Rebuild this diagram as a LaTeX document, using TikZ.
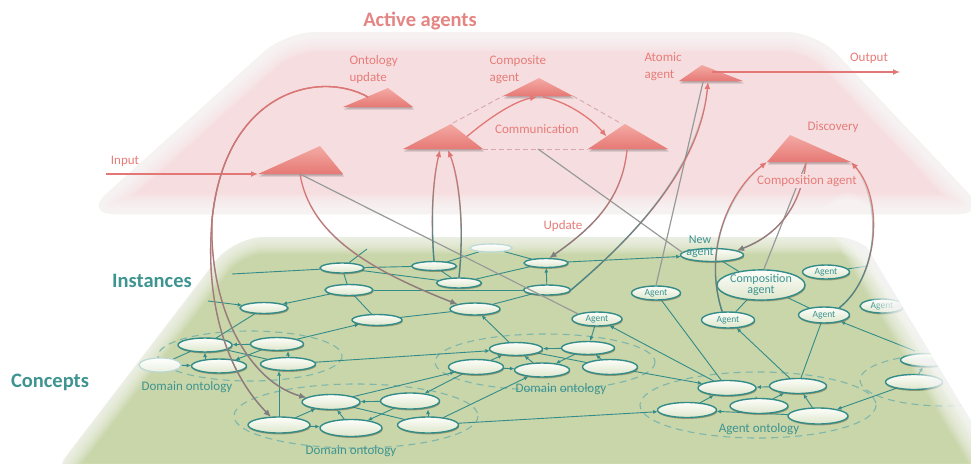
\documentclass[tikz,border=0pt]{standalone}
\usepackage{fontspec}
\setmainfont{Carlito}
\usetikzlibrary{arrows.meta,shapes.geometric,shadows,fadings,calc}

\definecolor{pinkplane}{RGB}{246,222,224}
\definecolor{greenplane}{RGB}{201,214,170}
\definecolor{tealline}{RGB}{52,140,137}
\definecolor{tealtext}{RGB}{62,148,144}
\definecolor{tealdash}{RGB}{126,182,170}
\definecolor{agentred}{RGB}{226,119,117}
\definecolor{redtext}{RGB}{231,124,121}
\definecolor{trtop}{RGB}{244,170,164}
\definecolor{trbot}{RGB}{230,121,117}
\definecolor{linkgray}{RGB}{152,154,154}
\definecolor{tipgray}{RGB}{120,130,130}
\definecolor{nodetop}{RGB}{253,254,250}
\definecolor{nodebot}{RGB}{221,230,204}
\definecolor{nodeshadow}{RGB}{105,92,58}
\definecolor{commdash}{RGB}{214,168,168}

\pgfdeclarelayer{planes}
\pgfdeclarelayer{links}
\pgfdeclarelayer{veil}
\pgfdeclarelayer{agents}
\pgfsetlayers{planes,links,main,veil,agents}

% lower half opaque, upper half transparent
\tikzfading[name=lowfade, top color=transparent!100, middle color=transparent!100, bottom color=transparent!0]

\newcommand\lblfont{\fontsize{13}{17}\selectfont}
\newcommand\bigfont{\fontsize{20.5}{24}\selectfont\bfseries}

% many thin white strokes of growing width give a plane a soft rim
\newcommand\softedge[2]{\foreach \w in {2,4,...,#1}{\draw[white, opacity=0.075, line width=\w pt, line join=round, line cap=round] #2;}}

% an agent triangle: name, left corner, apex, right corner
\newcommand\agtri[4]{%
  \coordinate (#1-l) at (#2);
  \coordinate (#1-t) at (#3);
  \coordinate (#1-r) at (#4);
  \fill[black, opacity=0.13] ([shift={(0.5,1.4)}]#1-l) -- ([shift={(0.5,1.4)}]#1-t) -- ([shift={(0.5,1.4)}]#1-r) -- cycle;
  \fill[black, opacity=0.15] ([shift={(1,2.6)}]#1-l) -- ([shift={(1,2.6)}]#1-t) -- ([shift={(1,2.6)}]#1-r) -- cycle;
  \shade[top color=trtop, bottom color=trbot] (#1-l) -- (#1-t) -- (#1-r) -- cycle;
}

% red connector whose lower end turns grey
\newcommand\redtogray[1]{%
  \draw[redarr] #1;
  \draw[draw=tipgray, line width=1.3pt, -{Latex[length=7pt,width=6pt]}, path fading=lowfade] #1;
}
% connector rising from a teal node into a red arrow
\newcommand\tealtored[1]{%
  \draw[redarr] #1;
  \draw[draw=tealline, line width=1.3pt, path fading=lowfade] #1;
}

\tikzset{
  onode/.style 2 args={ellipse, draw=tealline, line width=1.4pt,
    top color=nodetop, bottom color=nodebot,
    minimum width=#1pt, minimum height=#2pt, inner sep=0pt, outer sep=0.5pt,
    drop shadow={shadow xshift=0.7pt, shadow yshift=-1.4pt, fill=nodeshadow, opacity=0.5}},
  agnode/.style 2 args={onode={#1}{#2}, text=tealtext, font=\fontsize{9.5}{10}\selectfont},
  ghostnode/.style 2 args={ellipse, draw=tealline!35!white, line width=1.1pt,
    top color=white, bottom color=nodebot!60!white,
    minimum width=#1pt, minimum height=#2pt, inner sep=0pt},
  link/.style={draw=tealline, line width=0.9pt},
  larr/.style={link, -{Latex[length=4.5pt,width=4pt]}},
  dom/.style={draw=tealdash, line width=1.1pt, dash pattern=on 7pt off 5pt},
  domlabel/.style={text=tealtext, font=\lblfont},
  redlabel/.style={text=redtext, font=\lblfont},
  redarr/.style={draw=agentred, line width=1.3pt, -{Latex[length=7pt,width=6pt]}},
  grayline/.style={draw=linkgray, line width=1.2pt},
  commline/.style={draw=commdash, line width=0.9pt, dash pattern=on 5pt off 3pt},
}

\begin{document}
\begin{tikzpicture}[x=1pt, y=-1pt]
\useasboundingbox (0,0) rectangle (971,463);

% ---------------- planes ----------------
\begin{pgfonlayer}{planes}
  \fill[pinkplane, rounded corners=30pt] (286,32) -- (816,32) -- (988,214) -- (84,214) -- cycle;
  \softedge{40}{[rounded corners=30pt] (286,32) -- (816,32) -- (988,214) -- (84,214) -- cycle}
  \fill[greenplane, rounded corners=30pt] (48,480) -- (234,237) -- (866,237) -- (1012,466) -- (1012,480) -- cycle;
  \softedge{34}{[rounded corners=30pt] (48,480) -- (234,237) -- (866,237) -- (1012,466) -- (1012,480) -- cycle}
  % ontology groups
  \draw[dom] (250,356) ellipse [x radius=92, y radius=25];
  \draw[dom] (356,416) ellipse [x radius=122, y radius=32];
  \draw[dom] (545,362) ellipse [x radius=110, y radius=28];
  \draw[dom] (758,405) ellipse [x radius=118, y radius=33];
  \draw[dom] (945,380) ellipse [x radius=85, y radius=26];
\end{pgfonlayer}

% ---------------- instance nodes ----------------
\node[onode={44}{10}] (A1) at (342,268) {};
\node[onode={48}{11}] (A2) at (349,290) {};
\node[onode={48}{11}] (A3) at (264,308) {};
\node[onode={50}{11}] (A4) at (377,320) {};
\node[onode={45}{9}]  (A5) at (434,266) {};
\node[onode={45}{10}] (A6) at (459,283) {};
\node[onode={50}{12}] (A7) at (475,309) {};
\node[ghostnode={42}{8}] (F0) at (491,248) {};
\node[onode={44}{9}]  (B1) at (546,263) {};
\node[onode={47}{10}] (B2) at (547,290) {};
\node[agnode={50}{14}] (Ag1) at (597,319) {Agent};
\node[agnode={49}{14}] (Ag2) at (656,293) {Agent};
\node[onode={63}{13}] (NewA) at (712,255) {};
\node[agnode={88}{26}, align=center, font=\fontsize{12}{11}\selectfont] (CompA) at (761,285) {Composition\\agent};
\node[agnode={47}{14}] (Ag3) at (826,272) {Agent};
\node[agnode={53}{16}] (Ag4) at (728,320) {Agent};
\node[agnode={51}{16}] (Ag5) at (824,315) {Agent};
\node[agnode={44}{14}] (Ag6) at (882,306) {Agent};

% ---------------- concept nodes ----------------
\node[ghostnode={42}{14}] (C0) at (160,365) {};
\node[onode={54}{14}] (C1) at (205,345) {};
\node[onode={53}{13}] (C2) at (277,344) {};
\node[onode={55}{14}] (C3) at (219,366) {};
\node[onode={55}{13}] (C4) at (288,364) {};
\node[onode={62}{16}] (D1) at (279,425) {};
\node[onode={58}{15}] (D2) at (331,402) {};
\node[onode={62}{17}] (D3) at (351,428) {};
\node[onode={59}{16}] (D4) at (410,401) {};
\node[onode={61}{16}] (D5) at (428,425) {};
\node[onode={53}{13}] (E1) at (516,349) {};
\node[onode={53}{13}] (E2) at (588,348) {};
\node[onode={55}{15}] (E3) at (476,367) {};
\node[onode={55}{14}] (E4) at (542,370) {};
\node[onode={55}{15}] (E5) at (610,367) {};
\node[onode={59}{15}] (G1) at (687,410) {};
\node[onode={58}{15}] (G2) at (727,388) {};
\node[onode={58}{15}] (G3) at (759,406) {};
\node[onode={57}{15}] (G4) at (798,386) {};
\node[onode={60}{16}] (G5) at (818,416) {};
\node[onode={53}{13}] (H1) at (927,360) {};
\node[onode={57}{15}] (H2) at (914,382) {};

% ---------------- links between instances and concepts ----------------
\begin{pgfonlayer}{links}
  \coordinate (iL1) at (232,274);
  \coordinate (iL2) at (208,301);
  \coordinate (iT1) at (367,249);
  \coordinate (iR1) at (868,266);
  \coordinate (hR)  at (915,351);
  \draw[link] (iL1) -- (A1);
  \draw[link] (A1) -- (iT1);
  \draw[link] (A1) -- (A2);
  \draw[link] (A1) -- (A6);
  \draw[link] (A1) -- (A5);
  \draw[larr] (A2) -- (A3);
  \draw[larr] (iL2) -- (A3);
  \draw[link] (A3) -- (C1);
  \draw[link] (A2) -- (A4);
  \draw[larr] (C2) -- (A4);
  \draw[link] (A4) -- (A7);
  \draw[link] (A5) -- (A6);
  \draw[link] (A5) -- (F0);
  \draw[link] (F0) -- (B1);
  \draw[link] (A6) -- (B1);
  \draw[link] (A2) -- (B2);
  \draw[larr] (B2) -- (B1);
  \draw[larr] (B1) -- (NewA);
  \draw[link] (B2) -- (A7);
  \draw[larr] (E1) -- (A7);
  \draw[larr] (Ag1) -- (E2);
  \draw[larr] (G2) -- (Ag1);
  \draw[link] (Ag2) -- (G2);
  \draw[larr] (G4) -- (Ag4);
  \draw[link] (Ag5) -- (G4);
  \draw[larr] (hR) -- (Ag5);
  \draw[link] (CompA) -- (Ag4);
  \draw[link] (CompA) -- (Ag5);
  \draw[link] (NewA) -- (CompA);
  \draw[link] (Ag3) -- (iR1);
  % domain ontology, left
  \draw[link] (C0) -- (C1);
  \draw[larr] (C0) -- (C3);
  \draw[larr] (C3.north -| C1.south) -- (C1.south);
  \draw[larr] (C2) -- (C1);
  \draw[larr] (C2) -- (C3);
  \draw[link] (C1) -- (C4);
  \draw[larr] (C4.north) -- (C4.north |- C2.south);
  \draw[larr] (D1.north) -- (D1.north |- C4.south);
  \draw[larr] (C4) -- (E1);
  % domain ontology, lower
  \draw[larr] (D1) -- (D2);
  \draw[larr] (D1) -- (D3);
  \draw[larr] (D3) -- (D2);
  \draw[larr] (D4) -- (D2);
  \draw[link] (D2) -- (D5);
  \draw[larr] (D4) -- (D3);
  \draw[larr] (D5.north) -- (D5.north |- D4.south);
  \draw[larr] (D2) -- (E3);
  \draw[larr] (E3) -- (D4);
  \draw[larr] (D5) -- (E4);
  \draw[larr] (D5) -- (G1);
  % domain ontology, middle
  \draw[larr] (E2) -- (E1);
  \draw[larr] (E3) -- (E1);
  \draw[larr] (E3) -- (E4);
  \draw[larr] (E4) -- (E1);
  \draw[larr] (E2) -- (E4);
  \draw[larr] (E5) -- (E2);
  \draw[link] (E1) -- (E5);
  \draw[larr] (E5) -- (G2);
  % agent ontology
  \draw[larr] (G1) -- (G2);
  \draw[larr] (G3.110) -- (G3.110 |- G2.south);
  \draw[larr] (G4) -- (G2);
  \draw[larr] (G5) -- (G4);
  \draw[larr] (G3) -- (G4);
  \draw[larr] (G5) -- (G1);
  \draw[larr] (H2) -- (G5);
  \draw[larr] (H2) -- (H1);
\end{pgfonlayer}

% ---------------- soft right rim of the lower plane ----------------
\begin{pgfonlayer}{veil}
  \fill[white] (860,236) -- (1030,236) -- (1030,466) -- (998,466) -- cycle;
  \softedge{48}{(848,216) -- (998,466)}
\end{pgfonlayer}

% ---------------- agents layer ----------------
\begin{pgfonlayer}{agents}
  % communication frame
  \coordinate (Tcomm-m) at (538,149);
  \draw[commline] (453,123) -- (503,96);
  \draw[commline] (573,96) -- (622,124);
  \draw[commline] (483,149) -- (588,149);

  \agtri{Tonto}{343,107}{388,88}{413,107}
  \agtri{Tin}{258,174}{320,146}{343,174}
  \agtri{Tleft}{403,149}{451,124}{483,149}
  \agtri{Tcomp}{503,96}{539,78}{573,96}
  \agtri{Tright}{588,149}{625,124}{668,149}
  \agtri{Tatom}{679,81}{702,65}{743,81}
  \agtri{Tdisc}{767,162}{790,135}{851,162}

  \coordinate (Tonto-s) at (368,97);
  \coordinate (Tin-b) at (300,174);
  \coordinate (Tleft-b1) at (440,150);
  \coordinate (Tleft-b2) at (448,150);
  \coordinate (Tleft-rs) at ($(Tleft-t)!0.5!(Tleft-r)$);
  \coordinate (Tcomp-b) at (537,97);
  \coordinate (Tcomp-b2) at (543,97);
  \coordinate (Tright-ls) at ($(Tright-l)!0.5!(Tright-t)$);
  \coordinate (Tright-b) at (627,150);
  \coordinate (Tatom-b1) at (708,82);
  \coordinate (Tatom-b2) at (703,82);
  \coordinate (Tatom-o) at (712,72);
  \coordinate (Tdisc-b) at (806,163);
  \coordinate (inpt) at (106,174);
  \coordinate (outpt) at (900,72);

  % grey links
  \draw[grayline] (Tin-b) -- (Ag1.165);
  \draw[grayline] (Tcomm-m) -- (NewA.175);
  \draw[grayline] (Ag2.north) -- (Tatom-b2);
  \draw[grayline] (Tdisc-b) -- (CompA.80);

  % input and output
  \draw[redarr] (inpt) -- (Tin-l);
  \draw[redarr] (Tatom-o) -- (outpt);

  % communication
  \draw[redarr] (Tleft-rs) .. controls (490,117) and (515,101) .. (Tcomp-b);
  \draw[redarr] (Tcomp-b2) .. controls (565,101) and (590,117) .. (Tright-ls);

  % from instances up to agents
  \tealtored{(A5.north) .. controls (430,210) and (434,175) .. (Tleft-b1)}
  \tealtored{(A6.north) .. controls (465,220) and (458,175) .. (Tleft-b2)}
  \tealtored{(B2.east) .. controls (630,240) and (700,170) .. (Tatom-b1)}
  \tealtored{(Ag4.125) .. controls (702,250) and (730,190) .. (Tdisc-l)}
  \tealtored{(Ag5.25) .. controls (878,278) and (885,200) .. (Tdisc-r)}

  % from agents down to instances and concepts
  \redtogray{(Tright-b) .. controls (622,200) and (592,228) .. (B1.55)}
  \redtogray{(Tin-b) .. controls (310,235) and (370,270) .. (A7.165)}
  \redtogray{(Tdisc-b) .. controls (800,210) and (775,236) .. (NewA.10)}
  \redtogray{(Tonto-s) .. controls (320,70) and (225,90) .. (212,220) .. controls (205,300) and (225,370) .. (D1.135)}
  \redtogray{(Tonto-s) .. controls (320,70) and (225,90) .. (212,220) .. controls (209,310) and (250,382) .. (D2.170)}

  % labels
  \node[text=agentred!90!white, font=\bigfont] (ttl) at (420,21) {Active agents};
  \node[text=tealtext, font=\bigfont] (inst) at (152,281) {Instances};
  \node[text=tealtext, font=\bigfont] (conc) at (50,382) {Concepts};
  \node[redlabel, align=left, anchor=west] (l-onto) at (346,70) {Ontology\\update};
  \node[redlabel, align=left, anchor=west] (l-comp) at (486,70) {Composite\\agent};
  \node[redlabel, align=left, anchor=west] (l-atom) at (641,67) {Atomic\\agent};
  \node[redlabel] (l-out) at (869,58) {Output};
  \node[redlabel] (l-in) at (125,161) {Input};
  \node[redlabel] (l-comm) at (537,129) {Communication};
  \node[redlabel] (l-upd) at (563,226) {Update};
  \node[redlabel] (l-disc) at (833,127) {Discovery};
  \node[redlabel, fill=pinkplane, inner sep=1.5pt] (l-cagent) at (807,181) {Composition agent};
  \node[text=tealtext, font=\fontsize{12}{12}\selectfont, align=center] (l-new) at (700,247) {New\\agent};
  \node[domlabel] (l-do1) at (187,387) {Domain ontology};
  \node[domlabel] (l-do2) at (351,451) {Domain ontology};
  \node[domlabel] (l-do3) at (561,389) {Domain ontology};
  \node[domlabel] (l-ao) at (759,429) {Agent ontology};
\end{pgfonlayer}
\end{tikzpicture}
\end{document}
